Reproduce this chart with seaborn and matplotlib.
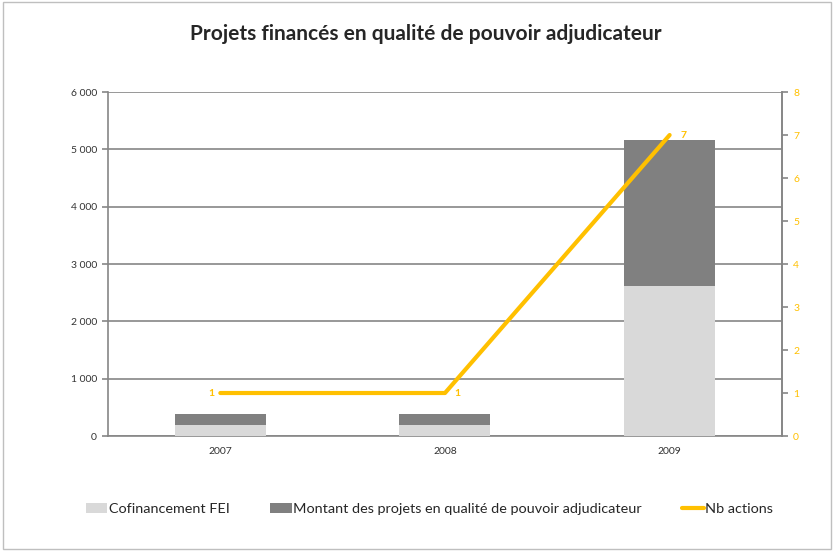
import numpy as np
import pandas as pd
import matplotlib
matplotlib.use("Agg")
import matplotlib.pyplot as plt
import seaborn as sns
from matplotlib.lines import Line2D
from matplotlib.patches import Patch

years = ["2007", "2008", "2009"]
cofinancement_fei = [190, 190, 2610]
montant_projets = [200, 200, 2550]
nb_actions = [1, 1, 7]

LIGHT = "#d9d9d9"
DARK = "#808080"
GOLD = "#ffc000"
GRID = "#868686"

sns.set_theme(style="white")
plt.rcParams["font.family"] = ["Lato", "DejaVu Sans"]

df = pd.DataFrame({
    "year": years,
    "fei": cofinancement_fei,
    "montant": montant_projets,
})
df["total"] = df["fei"] + df["montant"]

fig = plt.figure(figsize=(8.34, 5.51), dpi=100)
ax = fig.add_axes([0.1295, 0.2087, 0.8081, 0.6243])

# stacked bars: total first, then the lower part on top
sns.barplot(data=df, x="year", y="total", color=DARK, width=0.405,
            saturation=1, linewidth=0, ax=ax, zorder=3)
sns.barplot(data=df, x="year", y="fei", color=LIGHT, width=0.405,
            saturation=1, linewidth=0, ax=ax, zorder=3)

ax.set_xlim(-0.5, len(years) - 0.5)
ax.set_ylim(0, 6000)
ax.set_yticks(np.arange(0, 6001, 1000))
ax.set_yticklabels([f"{v:,}".replace(",", " ") for v in range(0, 6001, 1000)])
ax.yaxis.grid(True, color=GRID, linewidth=1.2, zorder=0)
ax.set_axisbelow(True)
ax.set_xlabel("")
ax.set_ylabel("")
ax.tick_params(axis="both", labelsize=7.5, colors="#333333", length=0, pad=8)
# category ticks between groups
ax.set_xticks(np.arange(-0.5, len(years), 1.0), minor=True)
ax.tick_params(axis="x", which="minor", length=4, color=GRID, width=1.2)
ax.tick_params(axis="y", length=4, color=GRID, width=1.2, direction="out", pad=4)
ax.spines["top"].set_visible(False)
for s in ["left", "bottom", "right"]:
    ax.spines[s].set_color(GRID)
    ax.spines[s].set_linewidth(1.2)

ax2 = ax.twinx()
sns.lineplot(x=np.arange(len(years)), y=nb_actions, color=GOLD, linewidth=3,
             ax=ax2, zorder=4)
ax2.set_ylim(0, 8)
ax2.set_yticks(range(0, 9))
ax2.tick_params(axis="y", labelsize=7.5, labelcolor=GOLD, color=GRID,
                length=4, width=1.2, pad=4)
for s in ["top", "left", "bottom"]:
    ax2.spines[s].set_visible(False)
ax2.spines["right"].set_color(GRID)
ax2.spines["right"].set_linewidth(1.2)
ax2.grid(False)

# data labels
offsets = [(-0.025, "right"), (0.04, "left"), (0.05, "left")]
for i, v in enumerate(nb_actions):
    dx, ha = offsets[i]
    ax2.text(i + dx, v, str(v), color=GOLD, fontsize=7.5, fontweight="bold",
             ha=ha, va="center", zorder=5)

fig.suptitle("Projets financés en qualité de pouvoir adjudicateur",
             fontsize=15, fontweight="bold", x=0.51, y=0.957)

handles = [
    Patch(facecolor=LIGHT, edgecolor="none", label="Cofinancement FEI"),
    Patch(facecolor=DARK, edgecolor="none",
          label="Montant des projets en qualité de pouvoir adjudicateur"),
    Line2D([0], [0], color=GOLD, linewidth=3, label="Nb actions"),
]
fig.legend(handles=handles, loc="center", bbox_to_anchor=(0.515, 0.076), ncol=3,
           frameon=False, fontsize=10.4, handlelength=1.5, handleheight=0.6,
           handletextpad=0.1, columnspacing=2.8)

# outer frame
fig.patches.append(plt.Rectangle((0.003, 0.003), 0.994, 0.994,
                                 transform=fig.transFigure, fill=False,
                                 edgecolor="#bfbfbf", linewidth=1))

fig.savefig("out.png", dpi=100)
